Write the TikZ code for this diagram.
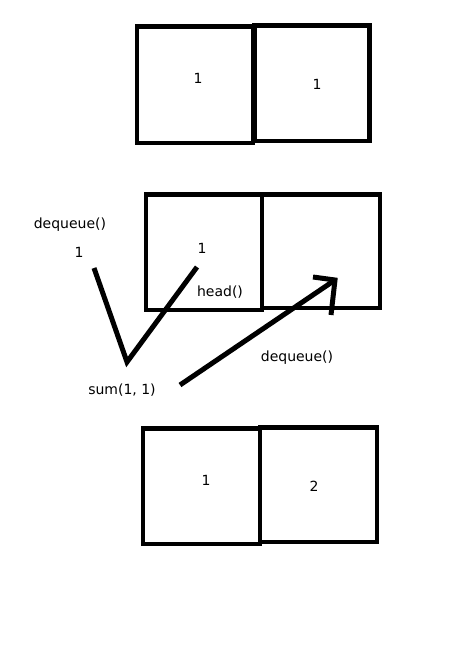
\documentclass[tikz,border=0pt]{standalone}
\usepackage{fontspec}
\setmainfont{DejaVu Sans}
\begin{document}
\begin{tikzpicture}[x=1pt,y=-1pt,
  cell/.style={draw=black,line width=4.5pt,inner sep=0pt,minimum width=#1},
  lbl/.style={font=\fontsize{14}{16}\selectfont,inner sep=0pt,text=black},
  stroke/.style={line width=5pt,black}]
\useasboundingbox (0,0) rectangle (460,648);
% top row
\node[cell=115.75pt,minimum height=116.5pt] (t1) at (195.1,84.5) {};
\node[cell=115.25pt,minimum height=115.5pt] (t2) at (312.1,83) {};
\node[lbl] (t1l) at (198,78) {1};
\node[lbl] (t2l) at (317,84) {1};
% middle row
\node[cell=115.75pt,minimum height=115.5pt] (m1) at (204.1,252) {};
\node[cell=117.75pt,minimum height=113.5pt] (m2) at (320.9,251) {};
\node[lbl] (d1) at (70,225) {dequeue()};
\node[lbl] (n1) at (79,252) {1};
\node[lbl] (n2) at (202,248) {1};
\node[lbl] (hd) at (220,292) {head()};
\node[lbl] (d2) at (297,358) {dequeue()};
\node[lbl] (sm) at (122,390) {sum(1, 1)};
% bottom row
\node[cell=116.75pt,minimum height=115.5pt] (b1) at (201.6,486) {};
\node[cell=116.75pt,minimum height=114.5pt] (b2) at (318.4,484.5) {};
\node[lbl] (b1l) at (206,480) {1};
\node[lbl] (b2l) at (314,486) {2};
% strokes
\coordinate (va) at (94,268);
\coordinate (vb) at (127,362);
\coordinate (vc) at (197,267);
\draw[stroke] (va) -- (vb) -- (vc);
\coordinate (as) at (180,385);
\coordinate (ae) at (335,280);
\coordinate (h1) at (313,277);
\coordinate (h2) at (331,315);
\draw[stroke] (as) -- (ae);
\draw[stroke] (h1) -- (ae) -- (h2);
\end{tikzpicture}
\end{document}
